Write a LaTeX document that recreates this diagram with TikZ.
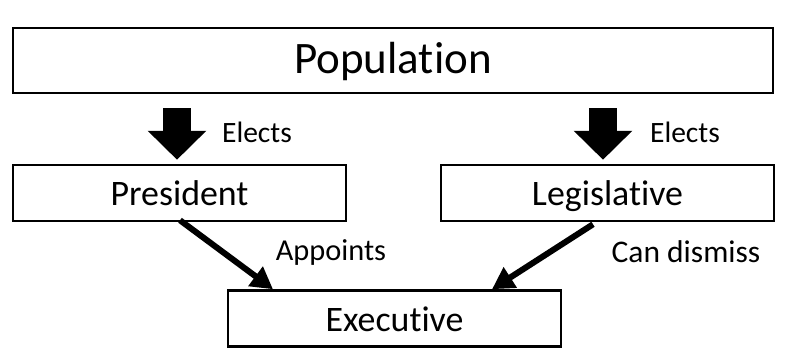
\documentclass[tikz,border=0pt]{standalone}
\usepackage{fontspec}
\setmainfont{Carlito}[Ligatures=NoCommon]
\usetikzlibrary{arrows.meta,positioning,calc}

\begin{document}
\begin{tikzpicture}[x=0.025cm, y=-0.025cm,
  box/.style={draw, line width=1.8pt, inner sep=0pt, minimum width=8.33cm, minimum height=1.4cm,
    text height=21pt, text depth=2.6pt, font=\fontsize{25.5}{30}\selectfont},
  lbl/.style={inner sep=0pt, anchor=base, font=\fontsize{21}{25}\selectfont},
  bigarrow/.style={line width=19.9pt, -{Triangle[length=20.6pt, width=40.5pt]}},
  thinarrow/.style={line width=4.3pt, -{Triangle[length=15.5pt, width=16.5pt]}}]
\useasboundingbox (0,0) rectangle (794,357);
% boxes
\node[box, minimum width=19cm, minimum height=1.625cm, text height=22pt, text depth=3pt,
  font=\fontsize{32}{38}\selectfont] (pop) at (393,60.5) {Population};
\node[box] (pres) at (179.5,193) {President};
\node[box] (leg) at (607.5,193) {Legislative};
\node[box] (exec) at (394.5,318.5) {Executive};
% labels
\node[lbl] (elects1) at (257,142) {Elects};
\node[lbl] (elects2) at (685,142) {Elects};
\node[lbl, font=\fontsize{21.6}{26}\selectfont] (appoints) at (331,260) {Appoints};
\node[lbl, font=\fontsize{22.4}{27}\selectfont] (dismiss) at (686,262) {Can dismiss};
% arrows
\draw[bigarrow] ($(pres.north |- pop.south)+(-2.5,14)$) -- ($(pres.north)+(-2.5,-4)$);
\draw[bigarrow] ($(leg.north |- pop.south)+(-4.5,14)$) -- ($(leg.north)+(-4.5,-4)$);
\draw[thinarrow] ($(pres.south)+(0.5,-2)$) -- ($(exec.north)+(-121.5,0)$);
\draw[thinarrow] ($(leg.south)+(-14.5,2)$) -- ($(exec.north)+(97.5,0)$);
\end{tikzpicture}
\end{document}
